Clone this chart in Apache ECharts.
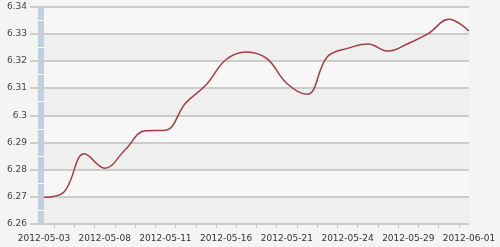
<!DOCTYPE html>
<html>
<head>
<meta charset="utf-8">
<script src="https://cdn.jsdelivr.net/npm/echarts@6/dist/echarts.min.js"></script>
<style>
html,body{margin:0;padding:0;background:#f4f4f4;}
#c{width:500px;height:247px;}
</style>
</head>
<body>
<div id="c"></div>
<script>
var dates = ['2012-05-03','2012-05-04','2012-05-07','2012-05-08','2012-05-09','2012-05-10','2012-05-11','2012-05-14','2012-05-15','2012-05-16','2012-05-17','2012-05-18','2012-05-21','2012-05-22','2012-05-23','2012-05-24','2012-05-25','2012-05-28','2012-05-29','2012-05-30','2012-05-31','2012-06-01'];
var values = [6.2698, 6.2719, 6.2858, 6.2805, 6.2872, 6.2943, 6.2945, 6.3045, 6.3111, 6.3205, 6.3233, 6.3209, 6.3117, 6.3077, 6.3215, 6.3246, 6.3262, 6.3236, 6.3264, 6.3301, 6.3353, 6.3310];
var yMin = 6.26, yMax = 6.34, yStep = 0.01;

var chart = echarts.init(document.getElementById('c'), null, {renderer: 'canvas'});
var font = 'DejaVu Sans';
chart.setOption({
  animation: false,
  backgroundColor: '#f4f4f4',
  grid: [
    {left: 44, right: 31, top: 6.5, bottom: 23},
    {left: 38, width: 6, top: 6.5, bottom: 23, show: true, backgroundColor: '#bfd0e0', borderWidth: 0}
  ],
  xAxis: [
    {
      type: 'category', gridIndex: 0, data: dates, boundaryGap: false, position: 'bottom',
      axisLine: {show: false}, axisTick: {show: false}, splitLine: {show: false},
      axisLabel: {interval: 2, fontFamily: font, fontSize: 9, color: '#333', margin: 10}
    },
    {
      type: 'value', gridIndex: 0, min: 0, max: dates.length - 1, interval: 1, position: 'bottom',
      axisLine: {show: false}, axisTick: {show: false}, axisLabel: {show: false},
      splitLine: {show: false},
      minorTick: {show: true, splitNumber: 2, length: 4, lineStyle: {color: '#b8c8d8', width: 1}},
      minorSplitLine: {show: false}
    },
    {type: 'category', gridIndex: 1, data: ['a'], show: false}
  ],
  yAxis: [
    {
      type: 'value', gridIndex: 0, min: yMin, max: yMax, interval: yStep,
      axisLine: {show: false},
      axisTick: {show: true, length: 14, lineStyle: {color: '#cccccc', width: 2}},
      axisLabel: {fontFamily: font, fontSize: 9, color: '#444', margin: 17},
      splitLine: {show: true, lineStyle: {color: '#cccccc', width: 2}},
      splitArea: {show: true, areaStyle: {color: ['#efefef', '#f7f7f7']}}
    },
    {
      type: 'value', gridIndex: 1, min: yMin, max: yMax, interval: yStep / 2,
      axisLine: {show: false}, axisTick: {show: false}, axisLabel: {show: false},
      splitLine: {show: true, lineStyle: {color: '#ffffff', width: 1}}
    }
  ],
  series: [{
    type: 'line', xAxisIndex: 0, yAxisIndex: 0, data: values,
    smooth: 0.4, showSymbol: false, symbol: 'none',
    lineStyle: {color: '#a33b43', width: 1.5}
  }]
});
</script>
</body>
</html>
